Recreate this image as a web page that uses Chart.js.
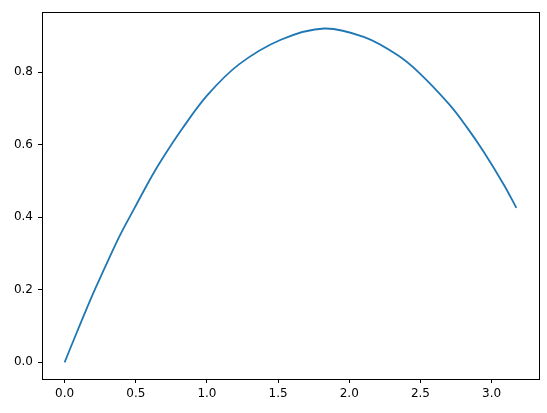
<!DOCTYPE html>
<html>
<head>
<meta charset="utf-8">
<script src="https://cdn.jsdelivr.net/npm/chart.js@4/dist/chart.umd.min.js"></script>
<style>
html,body{margin:0;padding:0;background:#fff;}
#wrap{width:547px;height:413px;}
</style>
</head>
<body>
<div id="wrap"><canvas id="c" width="547" height="413"></canvas></div>
<script>
// Values
const xValues = [0, 0.063, 0.146, 0.216, 0.310, 0.392, 0.486, 0.592, 0.674, 0.827, 1.003, 1.225, 1.519, 1.824, 2.106, 2.341, 2.493, 2.704, 2.822, 2.951, 3.092, 3.174];
const yValues = [0, 0.061, 0.140, 0.204, 0.285, 0.353, 0.422, 0.499, 0.554, 0.645, 0.737, 0.822, 0.890, 0.921, 0.897, 0.847, 0.798, 0.711, 0.651, 0.577, 0.486, 0.426];
const xTicks = [0.0, 0.5, 1.0, 1.5, 2.0, 2.5, 3.0];
const yTicks = [0.0, 0.2, 0.4, 0.6, 0.8];

const points = xValues.map((x, i) => ({x: x, y: yValues[i]}));

const frame = {
  id: 'frame',
  afterDraw(chart) {
    const a = chart.chartArea, ctx = chart.ctx;
    ctx.save();
    ctx.strokeStyle = '#000';
    ctx.lineWidth = 1;
    ctx.strokeRect(Math.round(a.left) + 0.5, Math.round(a.top) + 0.5,
                   Math.round(a.right - a.left), Math.round(a.bottom - a.top));
    ctx.restore();
  }
};

const fontSpec = {family: 'DejaVu Sans', size: 12};

new Chart(document.getElementById('c'), {
  type: 'line',
  data: {
    datasets: [{
      data: points,
      borderColor: '#1f77b4',
      borderWidth: 1.8,
      pointRadius: 0,
      fill: false,
      tension: 0.35
    }]
  },
  options: {
    responsive: false,
    animation: false,
    devicePixelRatio: 1,
    layout: {padding: {top: 10, right: 8, left: 0, bottom: 0}},
    plugins: {legend: {display: false}, tooltip: {enabled: false}},
    scales: {
      x: {
        type: 'linear',
        min: -0.159,
        max: 3.333,
        afterBuildTicks(axis) { axis.ticks = xTicks.map(v => ({value: v})); },
        afterFit(axis) { axis.height = 34; },
        border: {display: true, color: '#000', width: 1},
        grid: {drawOnChartArea: false, drawTicks: true, tickLength: 4, color: '#000', tickColor: '#000'},
        ticks: {color: '#000', font: fontSpec, padding: 4, maxRotation: 0,
                callback: v => Number(v).toFixed(1)}
      },
      y: {
        type: 'linear',
        min: -0.046,
        max: 0.966,
        afterBuildTicks(axis) { axis.ticks = yTicks.map(v => ({value: v})); },
        afterFit(axis) { axis.width = 42; },
        border: {display: true, color: '#000', width: 1},
        grid: {drawOnChartArea: false, drawTicks: true, tickLength: 4, color: '#000', tickColor: '#000'},
        ticks: {color: '#000', font: fontSpec, padding: 5,
                callback: v => Number(v).toFixed(1)}
      }
    }
  },
  plugins: [frame]
});
</script>
</body>
</html>
